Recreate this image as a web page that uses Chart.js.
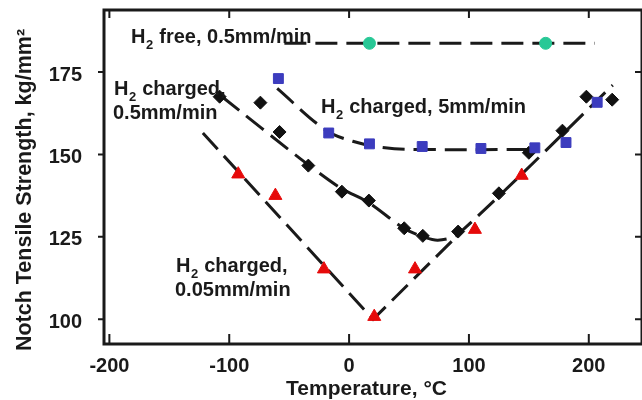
<!DOCTYPE html>
<html>
<head>
<meta charset="utf-8">
<script src="https://cdn.jsdelivr.net/npm/chart.js@4/dist/chart.umd.min.js"></script>
<style>
  html, body { margin: 0; padding: 0; background: #fff; overflow: hidden; }
  canvas { display: block; }
</style>
</head>
<body>
<canvas id="notchChart" width="642" height="400"></canvas>
<script>
// axis ticks
const xTicks = [-200, -100, 0, 100, 200];
const yTicks = [100, 125, 150, 175];

// H2 free, 0.5 mm/min
const freeT = [17, 164];
const freeS = [183.7, 183.7];
const freeLineT = [-54, 205];
const freeLineS = [183.7, 183.7];

// H2 charged, 5 mm/min
const fastT = [-59, -17, 17, 61, 110, 155, 181, 207];
const fastS = [173, 156.5, 153.2, 152.4, 151.8, 152, 153.6, 165.8];
const fastLineT = [-60, -20, 3, 30, 60, 158];
const fastLineS = [170, 157.5, 154, 152, 151.5, 151.5];

// H2 charged, 0.5 mm/min
const midT = [-108, -74, -58, -34, -6, 16.5, 46, 61.5, 91, 125, 150, 178, 198, 219.5];
const midS = [167.5, 165.7, 156.8, 146.6, 138.7, 136, 127.6, 125.3, 126.6, 138.2, 150.5, 157.2, 167.5, 166.6];
const midLineT = [-106, -40, -8, 16, 46, 62, 74, 90, 220];
const midLineS = [167.5, 148.5, 140, 135.5, 127.5, 125, 124, 125.5, 171];

// H2 charged, 0.05 mm/min
const slowT = [-92.5, -61.5, -21, 21, 55, 105, 144];
const slowS = [144, 137.5, 115.2, 100.8, 115.2, 127.2, 143.6];
const slowLineT = [-122, 20, 88];
const slowLineS = [156.5, 100, 124.5];

const FONT = "'Liberation Sans', Arial, sans-serif";
const INK = "#1a1a1a";

function pts(xs, ys) {
  return xs.map((v, i) => ({ x: v, y: ys[i] }));
}

function markers(xs, ys, style, color, radius, order) {
  return {
    data: pts(xs, ys),
    showLine: false,
    pointStyle: style,
    pointRadius: radius,
    pointBackgroundColor: color,
    pointBorderColor: color,
    pointBorderWidth: 1,
    order: order,
  };
}

function fitLine(xs, ys, tension) {
  return {
    data: pts(xs, ys),
    showLine: true,
    pointRadius: 0,
    borderColor: INK,
    borderWidth: 3,
    borderDash: [22, 9],
    tension: tension,
    order: 10,
  };
}

// text with a subscript 2 after the leading H
function drawH2(ctx, x, y, rest) {
  ctx.font = "bold 20px " + FONT;
  ctx.fillText("H", x, y);
  let w = ctx.measureText("H").width;
  ctx.font = "bold 13px " + FONT;
  ctx.fillText("2", x + w + 0.5, y + 6);
  w += ctx.measureText("2").width + 1;
  ctx.font = "bold 20px " + FONT;
  ctx.fillText(rest, x + w, y);
}

const overlay = {
  id: "overlay",
  afterDraw(chart) {
    const ctx = chart.ctx;
    const a = chart.chartArea;
    const xs = chart.scales.x;
    const ys = chart.scales.y;
    ctx.save();
    ctx.strokeStyle = INK;
    ctx.lineWidth = 3;
    ctx.strokeRect(a.left, a.top, a.right - a.left, a.bottom - a.top);

    ctx.lineWidth = 2;
    ctx.beginPath();
    xTicks.forEach(v => {
      const px = xs.getPixelForValue(v);
      if (px < a.left + 4) return;
      ctx.moveTo(px, a.bottom); ctx.lineTo(px, a.bottom - 10);
      ctx.moveTo(px, a.top); ctx.lineTo(px, a.top + 8);
    });
    yTicks.forEach(v => {
      const py = ys.getPixelForValue(v);
      ctx.moveTo(a.left - 6, py); ctx.lineTo(a.left, py);
      ctx.moveTo(a.right, py); ctx.lineTo(a.right - 7, py);
    });
    ctx.stroke();

    // axis titles
    ctx.fillStyle = INK;
    ctx.textAlign = "center";
    ctx.textBaseline = "alphabetic";
    ctx.font = "bold 21px " + FONT;
    ctx.fillText("Temperature, \u00B0C", 366.5, 395);

    ctx.save();
    ctx.translate(31, 190);
    ctx.rotate(-Math.PI / 2);
    ctx.font = "bold 21.5px " + FONT;
    ctx.fillText("Notch Tensile Strength, kg/mm\u00B2", 0, 0);
    ctx.restore();

    // curve labels
    ctx.textAlign = "left";
    drawH2(ctx, 131, 43, " free, 0.5mm/min");
    drawH2(ctx, 114, 95, " charged,");
    ctx.fillText("0.5mm/min", 113, 119);
    drawH2(ctx, 321, 113, " charged, 5mm/min");
    drawH2(ctx, 176, 272, " charged,");
    ctx.fillText("0.05mm/min", 175, 296);
    ctx.restore();
  },
};

new Chart(document.getElementById("notchChart"), {
  type: "scatter",
  data: {
    datasets: [
      markers(fastT, fastS, "rect", "rgb(60,60,190)", 7, 1),
      markers(slowT, slowS, "triangle", "rgb(230,10,10)", 7.5, 2),
      markers(midT, midS, "rectRot", "#111111", 6.5, 3),
      markers(freeT, freeS, "circle", "rgb(40,200,150)", 6, 4),
      fitLine(freeLineT, freeLineS, 0),
      fitLine(fastLineT, fastLineS, 0.35),
      fitLine(midLineT, midLineS, 0.25),
      fitLine(slowLineT, slowLineS, 0),
    ],
  },
  options: {
    responsive: false,
    animation: false,
    layout: { autoPadding: false, padding: { top: 10, right: -2, left: 0, bottom: 0 } },
    plugins: { legend: { display: false }, tooltip: { enabled: false } },
    scales: {
      x: {
        type: "linear",
        min: -204.5,
        max: 244.4,
        grid: { display: false, drawTicks: false },
        border: { display: false },
        ticks: {
          color: INK,
          padding: 10,
          font: { family: FONT, size: 20, weight: "bold" },
        },
        afterBuildTicks(scale) {
          scale.ticks = xTicks.map(v => ({ value: v }));
        },
        afterFit(scale) {
          scale.height = 56;
          scale.paddingLeft = 0;
          scale.paddingRight = 0;
        },
      },
      y: {
        type: "linear",
        min: 92.5,
        max: 193.8,
        grid: { display: false, drawTicks: false },
        border: { display: false },
        ticks: {
          color: INK,
          padding: 22,
          labelOffset: 3,
          font: { family: FONT, size: 20, weight: "bold" },
        },
        afterBuildTicks(scale) {
          scale.ticks = yTicks.map(v => ({ value: v }));
        },
        afterFit(scale) {
          scale.width = 104;
          scale.paddingTop = 0;
          scale.paddingBottom = 0;
        },
      },
    },
  },
  plugins: [overlay],
});
</script>
</body>
</html>
